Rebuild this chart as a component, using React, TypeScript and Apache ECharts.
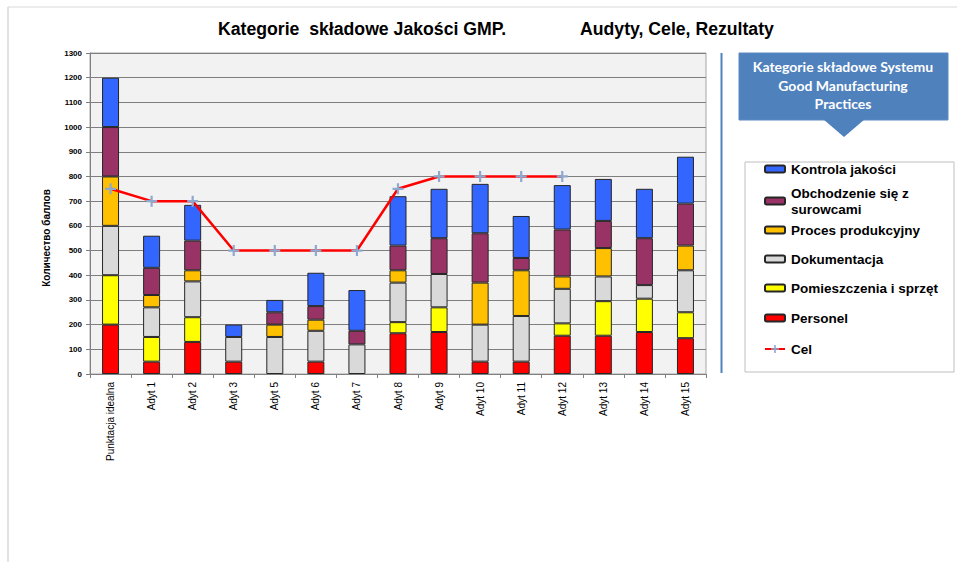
import React, { useEffect, useRef } from "react";
import * as echarts from "echarts";

const categories = [
  "Punktacja idealna", "Adyt 1", "Adyt 2", "Adyt 3", "Adyt 5", "Adyt 6", "Adyt 7", "Adyt 8",
  "Adyt 9", "Adyt 10", "Adyt 11", "Adyt 12", "Adyt 13", "Adyt 14", "Adyt 15",
];
const personel = [200, 50, 130, 50, 0, 50, 0, 165, 170, 50, 50, 155, 155, 170, 145];
const pomieszczenia = [200, 100, 100, 0, 0, 0, 0, 45, 100, 0, 0, 50, 140, 135, 105];
const dokumentacja = [200, 120, 145, 100, 150, 125, 120, 160, 135, 150, 185, 140, 100, 55, 170];
const proces = [200, 50, 45, 0, 50, 45, 0, 50, 0, 170, 185, 50, 115, 0, 100];
const obchodzenie = [200, 110, 120, 0, 50, 55, 55, 100, 145, 200, 50, 190, 110, 190, 170];
const kontrola = [200, 130, 145, 50, 50, 135, 165, 200, 200, 200, 170, 180, 170, 200, 190];
const cel = [750, 700, 700, 500, 500, 500, 500, 750, 800, 800, 800, 800, null, null, null];
const yTicks = [0, 100, 200, 300, 400, 500, 600, 700, 800, 900, 1000, 1100, 1200, 1300];

const barSeries = [
  { name: "Personel", data: personel, color: "#FF0000" },
  { name: "Pomieszczenia i sprzęt", data: pomieszczenia, color: "#FFFF00" },
  { name: "Dokumentacja", data: dokumentacja, color: "#D9D9D9" },
  { name: "Proces produkcyjny", data: proces, color: "#FFC000" },
  { name: "Obchodzenie się z\nsurowcami", data: obchodzenie, color: "#993366" },
  { name: "Kontrola jakości", data: kontrola, color: "#3366FF" },
];

const legendRows = [
  { name: "Kontrola jakości", y: 169 },
  { name: "Obchodzenie się z\nsurowcami", y: 201, multi: true },
  { name: "Proces produkcyjny", y: 230 },
  { name: "Dokumentacja", y: 259 },
  { name: "Pomieszczenia i sprzęt", y: 288 },
  { name: "Personel", y: 318 },
  { name: "Cel", y: 349 },
];

const CROSS = "path://M4,0 L6,0 L6,4 L10,4 L10,6 L6,6 L6,10 L4,10 L4,6 L0,6 L0,4 L4,4 Z";

export default function App() {
  const ref = useRef<HTMLDivElement>(null);
  useEffect(() => {
    if (!ref.current) return;
    const chart = echarts.init(ref.current, null, { renderer: "svg" });
    const legendFont = { fontSize: 13.5, fontWeight: "bold" as const, color: "#000", fontFamily: "Arial, 'Liberation Sans'" };
    const titleStyle = { fontFamily: "Arial, 'Liberation Sans'", fontSize: 19, fontWeight: "bold", fill: "#000", align: "left", verticalAlign: "middle" };
    chart.setOption({
      animation: false,
      backgroundColor: "#fff",
      legend: legendRows.map((r) => ({
        data: [r.name],
        left: 764,
        top: r.multi ? r.y - 24 : r.y - 8,
        orient: "vertical",
        padding: 0,
        itemGap: 0,
        itemWidth: 20,
        itemHeight: r.name === "Cel" ? 10 : 7,
        textStyle: {
          ...legendFont,
          lineHeight: 16,
          padding: r.multi ? [16, 0, 0, 1] : [0, 0, 0, 1],
        },
      })),
      grid: {
        left: 90, right: 251, top: 53, bottom: 188,
        show: true, backgroundColor: "#F2F2F2", borderColor: "#A6A6A6", borderWidth: 1,
      },
      xAxis: {
        type: "category",
        data: categories,
        boundaryGap: true,
        axisLine: { lineStyle: { color: "#808080" } },
        axisTick: { show: true, length: 4, lineStyle: { color: "#808080" } },
        axisLabel: { interval: 0, rotate: 90, fontSize: 10, color: "#000", fontFamily: "Arial, 'Liberation Sans'", margin: 8 },
      },
      yAxis: {
        type: "value",
        min: 0, max: 1300, interval: 100,
        axisLine: { show: true, lineStyle: { color: "#808080" } },
        axisTick: { show: true, length: 4, lineStyle: { color: "#808080" } },
        axisLabel: {
          fontSize: 8, fontWeight: "bold", color: "#000", fontFamily: "Arial, 'Liberation Sans'", margin: 8,
          formatter: (v: number) => (yTicks.includes(v) ? String(v) : ""),
        },
        splitLine: { show: true, lineStyle: { color: "#7F7F7F", width: 1 } },
      },
      graphic: [
        { type: "line", shape: { x1: 8, y1: 7, x2: 957, y2: 7 }, style: { stroke: "#D9D9D9", lineWidth: 1 }, silent: true },
        { type: "line", shape: { x1: 8, y1: 7, x2: 8, y2: 562 }, style: { stroke: "#D9D9D9", lineWidth: 1.5 }, silent: true },
        { type: "text", x: 218, y: 28, scaleX: 0.93, style: { text: "Kategorie  składowe Jakości GMP.", ...titleStyle } },
        { type: "text", x: 580, y: 28, scaleX: 0.93, style: { text: "Audyty, Cele, Rezultaty", ...titleStyle } },
        {
          type: "text", x: 46, y: 238, rotation: Math.PI / 2,
          style: { text: "Количество баллов", fontSize: 10, fontWeight: "bold", fill: "#000", fontFamily: "Arial, 'Liberation Sans'", align: "center", verticalAlign: "middle" },
        },
        { type: "line", shape: { x1: 721.5, y1: 53, x2: 721.5, y2: 373 }, style: { stroke: "#4F81BD", lineWidth: 2 }, silent: true },
        { type: "rect", shape: { x: 739, y: 53, width: 209, height: 67 }, style: { fill: "#4F81BD", stroke: "#5B8AC4", lineWidth: 1 }, silent: true },
        { type: "polygon", shape: { points: [[823, 119], [865, 119], [844, 137]] }, style: { fill: "#4F81BD" }, silent: true },
        {
          type: "text", x: 843, y: 85,
          style: {
            text: "Kategorie składowe Systemu\nGood Manufacturing\nPractices",
            fontSize: 14, fontWeight: "bold", fill: "#fff", fontFamily: "Lato, 'Open Sans'",
            align: "center", verticalAlign: "middle", lineHeight: 18.5,
          },
        },
        { type: "rect", z: -1, shape: { x: 745, y: 162, width: 209, height: 210 }, style: { fill: "#fff", stroke: "#BFBFBF", lineWidth: 1 }, silent: true },
      ],
      series: [
        ...barSeries.map((s) => ({
          name: s.name,
          type: "bar",
          stack: "total",
          barWidth: 17,
          data: s.data.map((v) => (v === 0 ? "-" : v)),
          itemStyle: { color: s.color, borderColor: "#262626", borderWidth: 1 },
        })),
        {
          name: "Cel",
          type: "line",
          data: cel,
          z: 5,
          lineStyle: { color: "#FF0000", width: 2.5 },
          itemStyle: { color: "#8EA9D0", borderWidth: 0 },
          symbol: CROSS,
          symbolSize: 11,
          showSymbol: true,
        },
      ],
    });
    return () => chart.dispose();
  }, []);
  return <div ref={ref} style={{ position: "absolute", left: 0, top: 0, width: 957, height: 562 }} />;
}
